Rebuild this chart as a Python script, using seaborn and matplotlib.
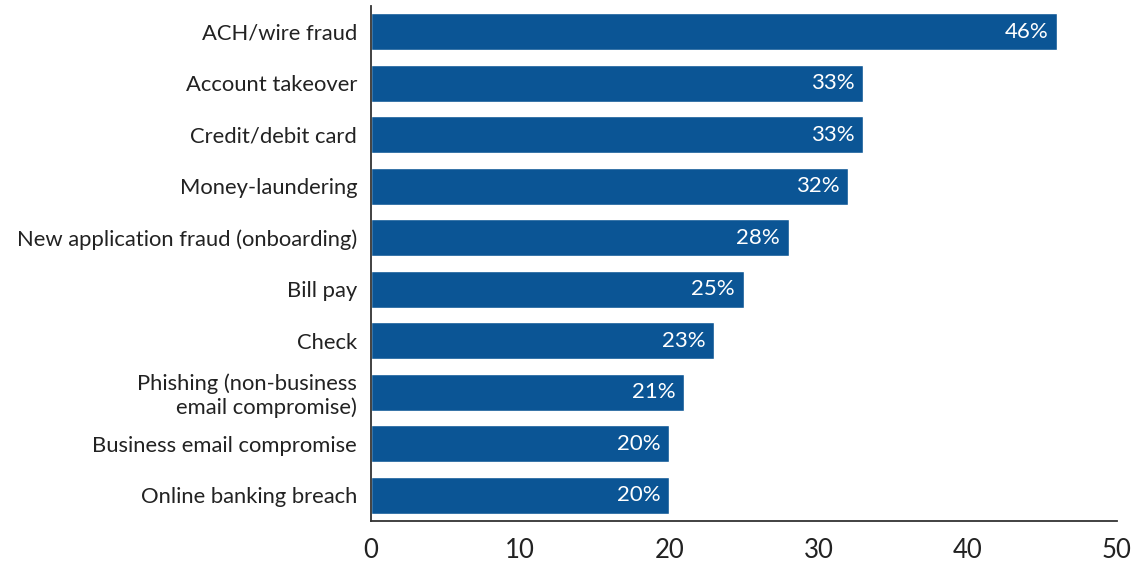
import matplotlib
matplotlib.use("Agg")
import matplotlib.pyplot as plt
import seaborn as sns
import pandas as pd

categories = [
    "ACH/wire fraud",
    "Account takeover",
    "Credit/debit card",
    "Money-laundering",
    "New application fraud (onboarding)",
    "Bill pay",
    "Check",
    "Phishing (non-business\nemail compromise)",
    "Business email compromise",
    "Online banking breach",
]
values = [46, 33, 33, 32, 28, 25, 23, 21, 20, 20]
x_ticks = [0, 10, 20, 30, 40, 50]

sns.set_theme(style="white")
plt.rcParams["font.family"] = ["Lato", "DejaVu Sans"]

df = pd.DataFrame({"category": categories, "value": values})

fig = plt.figure(figsize=(11.36, 5.61), dpi=100)
ax = fig.add_axes([0.3266, 0.0713, 0.6567, 0.9177])

bar_color = "#0b5595"
sns.barplot(data=df, y="category", x="value", orient="h", color=bar_color,
            width=0.72, saturation=1, ax=ax)

for patch, v in zip(ax.patches, values):
    y = patch.get_y() + patch.get_height() / 2
    ax.text(v - 0.6, y, f"{v}%", ha="right", va="center",
            color="white", fontsize=16)

ax.set_xlim(0, 50)
ax.set_ylim(9.5, -0.5)
ax.set_xticks(x_ticks)
ax.set_xticklabels([str(t) for t in x_ticks])
ax.set_xlabel("")
ax.set_ylabel("")

for side in ("top", "right"):
    ax.spines[side].set_visible(False)
for side in ("left", "bottom"):
    ax.spines[side].set_color("#333333")
    ax.spines[side].set_linewidth(1.3)

ax.tick_params(axis="x", direction="in", length=7, width=1.3, color="#333333",
               labelsize=18.5, labelcolor="#222222", pad=12)
ax.tick_params(axis="y", length=0, labelsize=15.8, labelcolor="#222222", pad=10)
for lbl in ax.get_yticklabels():
    lbl.set_horizontalalignment("right")
    lbl.set_multialignment("right")

fig.savefig("out.png", dpi=100)
